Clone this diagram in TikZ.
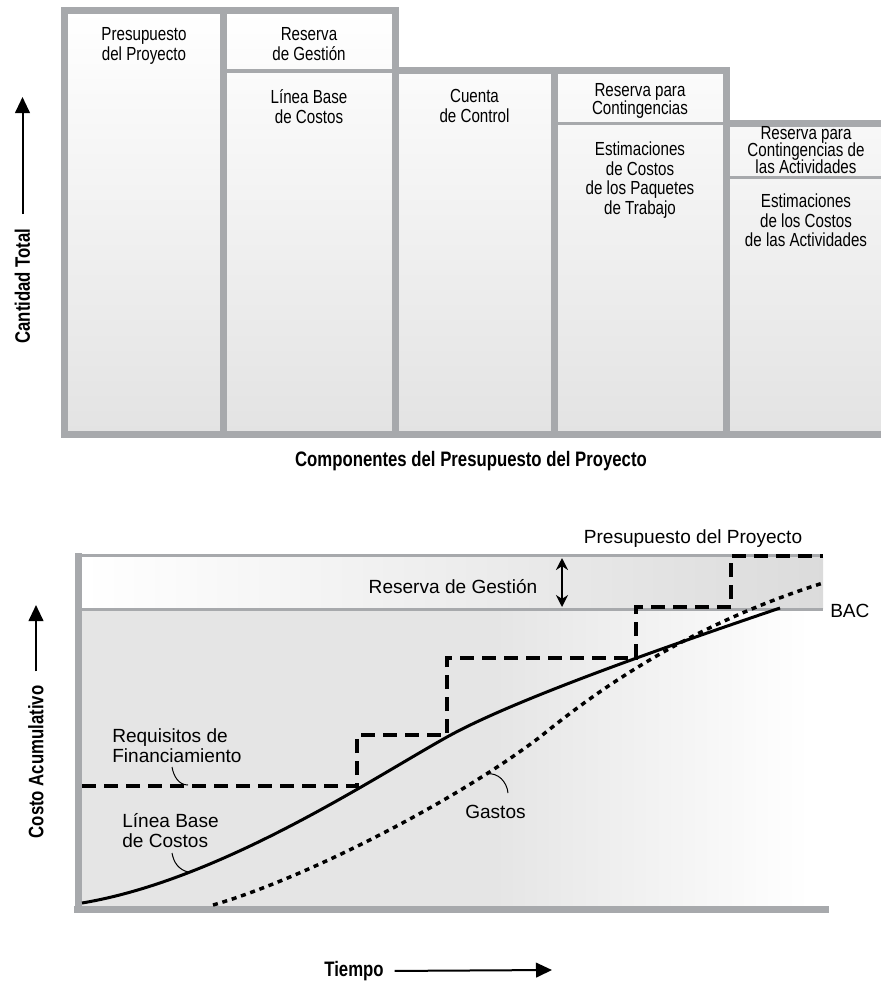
\documentclass[tikz,border=0pt]{standalone}
\usepackage{fontspec}
\setmainfont{Liberation Sans}
\newfontfamily\narrowfont[FakeStretch=0.8]{Liberation Sans}
\usetikzlibrary{arrows.meta}
\definecolor{framegray}{RGB}{167,169,172}
\lineskiplimit=-20pt

\tikzset{
  frame/.style={draw=framegray, line width=5.25pt},
  divider/.style={draw=framegray, line width=2.6pt},
  celltext/.style={font=\narrowfont\fontsize{14.2}{15}\selectfont, align=center, anchor=north, inner sep=0pt},
  tighttext/.style={celltext, font=\narrowfont\fontsize{14.2}{12.9}\selectfont},
  axislabel/.style={font=\narrowfont\bfseries\fontsize{15.7}{18}\selectfont, inner sep=0pt},
  plotlabel/.style={font=\fontsize{14.3}{15.5}\selectfont, inner sep=0pt, align=left},
  axisarrow/.style={-{Triangle[length=12pt,width=11pt]}, line width=1.5pt},
  leader/.style={line width=0.75pt},
  baseline cost/.style={line width=2.25pt},
  funding/.style={line width=3pt, dash pattern=on 10.5pt off 6pt},
  spending/.style={line width=2.6pt, dash pattern=on 3.75pt off 3.6pt},
}

\begin{document}
\begin{tikzpicture}[x=0.75pt, y=-0.75pt]
\useasboundingbox (0,0) rectangle (881,983);

% componentes del presupuesto
\shade[top color=white, bottom color=black!11]
  (64.5,434) -- (64.5,10.5) -- (395,10.5) -- (395,70) -- (726,70)
  -- (726,123) -- (881,123) -- (881,434) -- cycle;
\draw[frame] (64.5,434) -- (64.5,10.5) -- (395,10.5) -- (395,70) -- (726,70)
  -- (726,123) -- (881,123);
\draw[frame] (61,434) -- (881,434);
\draw[frame] (223,10.5) -- (223,434);
\draw[frame] (395,10.5) -- (395,434);
\draw[frame] (554,70) -- (554,434);
\draw[frame] (726,70) -- (726,434);
\draw[divider] (223,71) -- (395,71);
\draw[divider] (554,123.5) -- (726,123.5);
\draw[divider] (726,177.5) -- (881,177.5);

\node[celltext] (budget) at (144,27) {Presupuesto\\del Proyecto};
\node[celltext] (mgmt) at (309,27) {Reserva\\de Gestión};
\node[celltext] (costbase) at (309,89) {Línea Base\\de Costos};
\node[celltext] (account) at (474.5,89) {Cuenta\\de Control};
\node[celltext, font=\narrowfont\fontsize{14.2}{13.7}\selectfont] (contres) at (640,83) {Reserva para\\Contingencias};
\node[celltext, font=\narrowfont\fontsize{14.2}{14.6}\selectfont] (wpest) at (640,142) {Estimaciones\\de Costos\\de los Paquetes\\de Trabajo};
\node[tighttext] (actres) at (806,126) {Reserva para\\Contingencias de\\las Actividades};
\node[celltext, font=\narrowfont\fontsize{14.2}{14.4}\selectfont] (actest) at (806,194) {Estimaciones\\de los Costos\\de las Actividades};

\node[axislabel, rotate=90] (qtylbl) at (22.5,286) {Cantidad Total};
\coordinate (qtytip) at (22.5,97);
\draw[axisarrow, shorten <=10.5pt] (qtylbl.east) -- (qtytip);
\node[axislabel] (complbl) at (471,461.5) {Componentes del Presupuesto del Proyecto};

% curva S
\fill[left color=white, right color=black!14] (82,557) rectangle (823,608);
\fill[black!10] (82,611) rectangle (500,906);
\fill[left color=black!10, right color=white] (500,611) rectangle (810,906);
\draw[divider, line width=2.25pt] (78,555.5) -- (823,555.5);
\draw[divider, line width=2.25pt] (78,609.5) -- (823,609.5);
\draw[frame] (78,553) -- (78,913);
\draw[frame] (74,909.5) -- (829,909.5);

\draw[funding] (82,786) -- (357,786) -- (357,735) -- (447,735) -- (447,658)
  -- (636,658) -- (636,607) -- (731,607) -- (731,556) -- (823,556);
\draw[spending] (213,905) .. controls (300,880) and (450,805) .. (540,737)
  .. controls (600,688) and (690,625) .. (823,583);
\draw[baseline cost] (82,903) .. controls (220,880) and (370,780) .. (447,737)
  .. controls (517,698) and (680,642) .. (780,608);

\coordinate (mgmttop) at (562,558);
\coordinate (mgmtbot) at (562,607);
\draw[{Stealth[length=9pt,width=9pt]}-{Stealth[length=9pt,width=9pt]}, line width=1.5pt] (mgmttop) -- (mgmtbot);

\node[plotlabel, anchor=base] (budgetlbl) at (693,543) {Presupuesto del Proyecto};
\node[plotlabel, anchor=base] (mgmtlbl) at (453,593) {Reserva de Gestión};
\node[plotlabel, anchor=base west] (baclbl) at (830,617) {BAC};
\node[plotlabel, anchor=north west] (reqlbl) at (112,728) {Requisitos de\\Financiamiento};
\node[plotlabel, anchor=north west] (cbllbl) at (122,813) {Línea Base\\de Costos};
\node[plotlabel, anchor=north west] (gastoslbl) at (465,805) {Gastos};

\coordinate (reqfrom) at (172,767);
\coordinate (reqto) at (188,785);
\draw[leader] (reqfrom) to[out=-80, in=180] (reqto);
\coordinate (cblfrom) at (172,853);
\coordinate (cblto) at (188,872);
\draw[leader] (cblfrom) to[out=-80, in=165] (cblto);
\coordinate (gastosfrom) at (508,793);
\coordinate (gastosto) at (487,774);
\draw[leader] (gastosfrom) to[out=95, in=10] (gastosto);

\node[axislabel, rotate=90] (costlbl) at (36,762) {Costo Acumulativo};
\coordinate (costtip) at (36,605);
\draw[axisarrow, shorten <=10.5pt] (costlbl.east) -- (costtip);
\node[axislabel] (timelbl) at (354,971) {Tiempo};
\coordinate (timetip) at (552,970);
\draw[axisarrow, shorten <=8pt] (timelbl.east) -- (timetip);
\end{tikzpicture}
\end{document}
